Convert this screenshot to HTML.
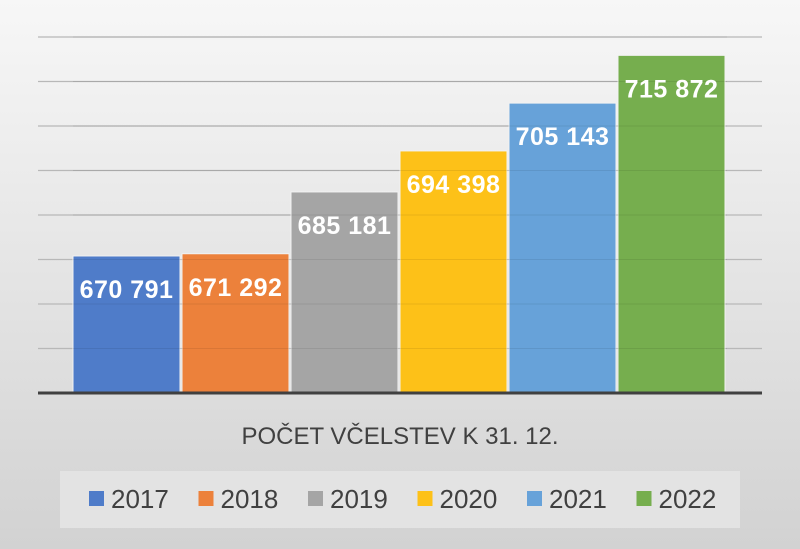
<!DOCTYPE html>
<html><head><meta charset="utf-8"><style>
body{margin:0;width:800px;height:549px;overflow:hidden;font-family:"Liberation Sans",sans-serif}
svg{display:block}
</style></head><body>
<svg id="c" width="800" height="549" xmlns="http://www.w3.org/2000/svg">
<defs><linearGradient id="bg" x1="0" y1="0" x2="0" y2="1"><stop offset="0" stop-color="#f7f7f7"/><stop offset="1" stop-color="#d2d2d2"/></linearGradient></defs>
<rect width="800" height="549" fill="url(#bg)"/>
<g id="grid"></g><g id="bars"></g><g id="labels"></g>
<line x1="38" x2="762" y1="393" y2="393" stroke="#404040" stroke-width="3"/>
<text x="400" y="444" text-anchor="middle" font-size="24" fill="#404040">POČET VČELSTEV K 31. 12.</text>
<rect x="60" y="471" width="680" height="57" fill="#e3e3e3"/>
<g id="legend"></g>
</svg>
<script>
const years=["2017","2018","2019","2020","2021","2022"];
const values=[670791,671292,685181,694398,705143,715872];
const valueLabels=["670 791","671 292","685 181","694 398","705 143","715 872"];
const colors=["#4f7cc9","#ec813b","#a5a5a5","#fdc118","#67a2d9","#76ae4e"];
const yMin=640000,yMax=720000,yStep=10000;
const NS="http://www.w3.org/2000/svg";
const y=v=>393-(v-yMin)/(yMax-yMin)*356;
const bandX=i=>73+i*109.0;
function mk(t,a,p){const e=document.createElementNS(NS,t);for(const k in a)e.setAttribute(k,a[k]);p.appendChild(e);return e;}
const grid=document.getElementById('grid'),bars=document.getElementById('bars'),labels=document.getElementById('labels'),legend=document.getElementById('legend');
for(let v=yMin+yStep;v<=yMax;v+=yStep){
  const l=mk('line',{x1:38,x2:762,y1:y(v),y2:y(v),stroke:'#b8b8b8','stroke-width':1.2},grid);
  
  
}
values.forEach((v,i)=>{
  const r=mk('rect',{x:bandX(i),y:y(v),width:107,height:393-y(v),fill:colors[i],stroke:'#f2f2f2','stroke-width':1},bars);
  
  
  const t=mk('text',{x:bandX(i)+53.5,y:y(v)+42,'text-anchor':'middle','font-size':25,'font-weight':'bold','letter-spacing':'0.5',fill:'#fff'},labels);
  t.textContent=valueLabels[i];
  
  
  const lx=89+i*109.5;
  const s=mk('rect',{x:lx,y:491,width:15,height:15,fill:colors[i]},legend);
  
  
  const lt=mk('text',{x:lx+22,y:508,'font-size':26,fill:'#404040'},legend);
  lt.textContent=years[i];
  
  
});
for(let v=yMin+yStep;v<=yMax;v+=yStep){
  const l=mk('line',{x1:73,x2:727,y1:y(v),y2:y(v),stroke:'#000','stroke-opacity':0.08,'stroke-width':1},bars);
  
  
}
</script>
</body></html>
